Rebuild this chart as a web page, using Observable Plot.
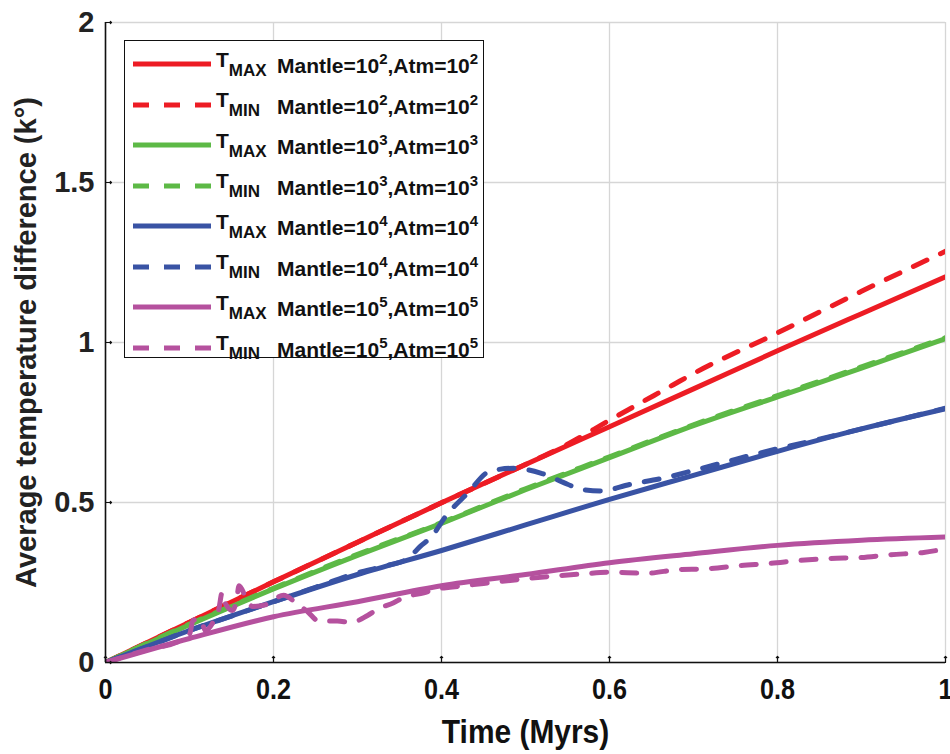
<!DOCTYPE html>
<html><head><meta charset="utf-8">
<script src="https://cdn.jsdelivr.net/npm/d3@7"></script>
<script src="https://cdn.jsdelivr.net/npm/@observablehq/plot@0.6"></script>
<style>
body{margin:0;background:#fff;}
#wrap{position:relative;width:950px;height:754px;font-family:"Liberation Sans",Arial,sans-serif;overflow:hidden;}
#wrap svg g[aria-label="x-axis tick label"] text{font-family:"Liberation Sans",Arial,sans-serif;font-weight:bold;font-size:30px;fill:#111;}
#wrap svg g[aria-label="x-axis label"] text{font-family:"Liberation Sans",Arial,sans-serif;font-weight:bold;font-size:34px;fill:#111;}
#wrap svg g[aria-label="y-axis tick label"] text{font-family:"Liberation Sans",Arial,sans-serif;font-weight:bold;font-size:29px;fill:#222;}
#wrap svg g[aria-label="y-axis label"] text{font-family:"Liberation Sans",Arial,sans-serif;font-weight:bold;font-size:29px;fill:#222;}
.legend{position:absolute;left:124px;top:40px;width:360px;height:318px;border:1.5px solid #111;background:#fff;box-sizing:border-box;}
.row{position:absolute;left:8px;height:40px;display:flex;align-items:center;font-weight:bold;font-size:21px;color:#111;white-space:nowrap;}
.row svg{width:78px;height:10px;margin-right:5px;}
.row .t{display:inline-block;width:61px;}
.row .t sub{font-size:17px;vertical-align:-9px;}
.row sup{font-size:15px;vertical-align:9px;}
</style></head>
<body><div id="wrap"></div>
<script>
// ---- data ----
const X_TICKS = [0, 0.2, 0.4, 0.6, 0.8, 1];
const Y_TICKS = [0, 0.5, 1, 1.5, 2];
const tGrid = [0, 0.1, 0.2, 0.3, 0.4, 0.5, 0.6, 0.7, 0.8, 0.9, 1.0];

const redMax = [0, 0.126, 0.252, 0.376, 0.499, 0.619, 0.737, 0.855, 0.974, 1.09, 1.205];
const redMinT = [0, 0.1, 0.2, 0.3, 0.4, 0.5, 0.55, 0.6, 0.676, 0.7, 0.8, 0.9, 1.0];
const redMin  = [0, 0.126, 0.252, 0.376, 0.499, 0.619, 0.682, 0.757, 0.868, 0.903, 1.03, 1.16, 1.285];

const greenMax = [0, 0.118, 0.23, 0.335, 0.435, 0.54, 0.64, 0.74, 0.83, 0.92, 1.012];
const greenMin = [0, 0.12, 0.232, 0.338, 0.437, 0.543, 0.643, 0.743, 0.834, 0.924, 1.015];

const blueMax = [0, 0.1, 0.19, 0.275, 0.35, 0.43, 0.51, 0.585, 0.66, 0.73, 0.793];
const blueMinT = [0, 0.05, 0.1, 0.15, 0.2, 0.25, 0.3, 0.33, 0.36, 0.375, 0.387, 0.407, 0.43, 0.458, 0.486, 0.518, 0.55, 0.565, 0.589, 0.625, 0.664, 0.7, 0.75, 0.8, 0.85, 0.9, 0.95, 1.0];
const blueMin  = [0, 0.05, 0.1, 0.145, 0.19, 0.235, 0.28, 0.3, 0.325, 0.364, 0.39, 0.464, 0.526, 0.598, 0.607, 0.592, 0.557, 0.542, 0.536, 0.557, 0.576, 0.6, 0.635, 0.668, 0.698, 0.73, 0.762, 0.795];

const magMax = [0, 0.075, 0.143, 0.19, 0.24, 0.275, 0.312, 0.34, 0.366, 0.382, 0.392];
const magMinT = [0, 0.05, 0.09, 0.1004, 0.104, 0.113, 0.119, 0.128, 0.135, 0.139, 0.143, 0.151, 0.156, 0.159, 0.167, 0.175, 0.19, 0.212, 0.226, 0.24, 0.254, 0.276, 0.292, 0.312, 0.325, 0.343, 0.355, 0.379, 0.395, 0.41, 0.45, 0.494, 0.533, 0.569, 0.598, 0.645, 0.68, 0.716, 0.756, 0.792, 0.827, 0.863, 0.899, 0.935, 0.974, 1.0];
const magMin  = [0, 0.04, 0.07, 0.09, 0.131, 0.137, 0.1, 0.126, 0.168, 0.22, 0.183, 0.1625, 0.194, 0.24, 0.204, 0.175, 0.18, 0.21, 0.188, 0.16, 0.13, 0.13, 0.125, 0.147, 0.168, 0.187, 0.203, 0.218, 0.23, 0.235, 0.247, 0.26, 0.27, 0.277, 0.282, 0.279, 0.29, 0.293, 0.303, 0.31, 0.319, 0.325, 0.328, 0.337, 0.344, 0.355];

const RED = "#ED1C24", GREEN = "#5DB946", BLUE = "#3953A4", MAG = "#B5519E";
const DASH = "15,15";

const series = [
  {x: tGrid,   y: redMax,   color: RED,   dash: null, kind: "MAX", p: 2},
  {x: redMinT, y: redMin,   color: RED,   dash: DASH, kind: "MIN", p: 2},
  {x: tGrid,   y: greenMax, color: GREEN, dash: null, kind: "MAX", p: 3},
  {x: tGrid,   y: greenMin, color: GREEN, dash: DASH, kind: "MIN", p: 3},
  {x: tGrid,   y: blueMax,  color: BLUE,  dash: null, kind: "MAX", p: 4},
  {x: blueMinT,y: blueMin,  color: BLUE,  dash: DASH, kind: "MIN", p: 4},
  {x: tGrid,   y: magMax,   color: MAG,   dash: null, kind: "MAX", p: 5},
  {x: magMinT, y: magMin,   color: MAG,   dash: DASH, kind: "MIN", p: 5}
];

const lineMarks = series.map(s => Plot.line(s.x.map((x, j) => ({x, y: s.y[j]})), {
  x: "x", y: "y", stroke: s.color, strokeWidth: 5, strokeDasharray: s.dash,
  curve: "monotone-x", clip: true
}));

const chart = Plot.plot({
  width: 950, height: 754,
  marginLeft: 105, marginRight: 5, marginTop: 22, marginBottom: 92,
  style: {background: "#fff", overflow: "visible"},
  x: {domain: [0, 1]},
  y: {domain: [0, 2]},
  marks: [
    Plot.gridX(X_TICKS, {stroke: "#d6d6d6", strokeOpacity: 1, strokeWidth: 1.3}),
    Plot.gridY(Y_TICKS, {stroke: "#d6d6d6", strokeOpacity: 1, strokeWidth: 1.3}),
    ...lineMarks,
    Plot.ruleX([0], {stroke: "#111", strokeWidth: 1.6}),
    Plot.ruleY([0], {stroke: "#111", strokeWidth: 1.6}),
    Plot.vector(X_TICKS, {x: d => d, y: 0, length: 6, rotate: 0, anchor: "start", stroke: "#111", strokeWidth: 1.2}),
    Plot.vector(Y_TICKS, {x: 0, y: d => d, length: 6, rotate: 90, anchor: "start", stroke: "#111", strokeWidth: 1.2}),
    Plot.axisX(X_TICKS, {tickSize: 0, tickPadding: 15, tickFormat: d => String(d),
      label: "Time (Myrs)", labelAnchor: "center", labelArrow: "none", labelOffset: 80}),
    Plot.axisY(Y_TICKS, {tickSize: 0, tickPadding: 11, tickFormat: d => String(d),
      label: "Average temperature difference (k°)", labelAnchor: "center", labelArrow: "none", labelOffset: 90})
  ]
});
const wrap = document.getElementById("wrap");
wrap.appendChild(chart);

// condense x-axis texts horizontally (append to Plot's own transform)
function condense(sel, k) {
  chart.querySelectorAll(sel).forEach(t => {
    const tr = t.getAttribute("transform") || "";
    t.setAttribute("transform", tr + ` scale(${k},1)`);
  });
}
condense('g[aria-label="x-axis tick label"] text', 0.84);
condense('g[aria-label="x-axis label"] text', 0.88);

// legend
const leg = document.createElement("div");
leg.className = "legend";
series.forEach((s, i) => {
  const row = document.createElement("div");
  row.className = "row";
  row.style.top = (3 + i * 40.5) + "px";
  row.innerHTML =
    `<svg viewBox="0 0 78 10"><line x1="0" y1="5" x2="78" y2="5" stroke="${s.color}" stroke-width="5" ${s.dash ? `stroke-dasharray="16,15"` : ""}/></svg>` +
    `<span class="t">T<sub>${s.kind}</sub></span>` +
    `<span>Mantle=10<sup>${s.p}</sup>,Atm=10<sup>${s.p}</sup></span>`;
  leg.appendChild(row);
});
wrap.appendChild(leg);
</script>
</body></html>
